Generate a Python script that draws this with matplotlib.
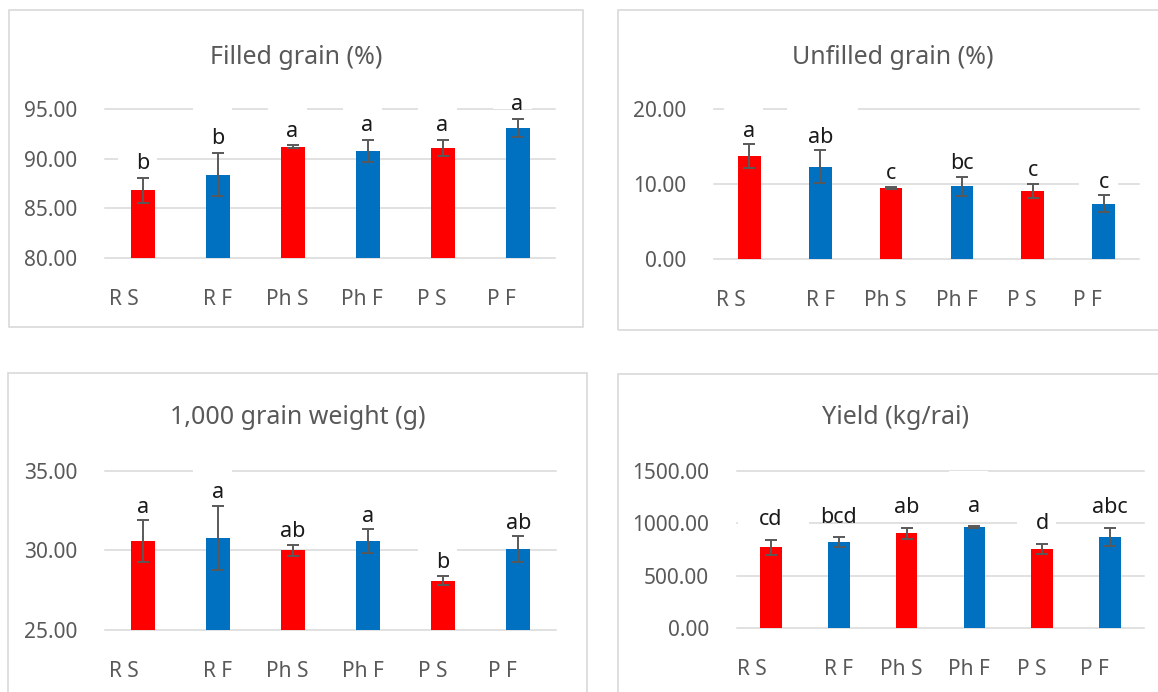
import numpy as np
import matplotlib.pyplot as plt
from matplotlib.patches import Rectangle
from matplotlib.ticker import FormatStrFormatter
from matplotlib.transforms import Affine2D, ScaledTranslation

plt.rcParams['font.family'] = ['Noto Sans', 'DejaVu Sans']

# treatments (trailing blanks come from the worksheet cells)
categories = ['R S       ', 'R F', 'Ph S  ', 'Ph F  ', 'P S    ', 'P F      ']
bar_colors = ['#FF0000', '#0070C0', '#FF0000', '#0070C0', '#FF0000', '#0070C0']

# filled grain (%)
filled = [86.8, 88.4, 91.2, 90.8, 91.1, 93.1]
filled_err = [1.3, 2.2, 0.15, 1.1, 0.8, 0.9]
filled_sig = ['b', 'b', 'a', 'a', 'a', 'a']

# unfilled grain (%)
unfilled = [13.7, 12.3, 9.5, 9.7, 9.1, 7.4]
unfilled_err = [1.6, 2.2, 0.15, 1.25, 0.9, 1.1]
unfilled_sig = ['a', 'ab', 'c', 'bc', 'c', 'c']

# 1,000 grain weight (g)
weight = [30.6, 30.8, 30.0, 30.6, 28.1, 30.1]
weight_err = [1.3, 2.0, 0.35, 0.75, 0.3, 0.8]
weight_sig = ['a', 'a', 'ab', 'a', 'b', 'ab']

# yield (kg/rai)
yld = [770, 822, 906, 964, 755, 870]
yld_err = [72, 46, 52, 10, 50, 88]
yld_sig = ['cd', 'bcd', 'ab', 'a', 'd', 'abc']

W, H = 1158, 692
fig = plt.figure(figsize=(W / 100, H / 100), dpi=100)
grey = '#595959'
frame = '#D9D9D9'


def px_rect(x0, y0, x1, y1):
    # pixel box (top-left origin) -> figure fraction rect
    return [x0 / W, 1 - y1 / H, (x1 - x0) / W, (y1 - y0) / H]


panels = [
    ('Filled grain (%)', filled, filled_err, filled_sig, (80, 95, 5),
     px_rect(105, 109, 555, 258), px_rect(9, 10, 583, 327), (296, 57), 14),
    ('Unfilled grain (%)', unfilled, unfilled_err, unfilled_sig, (0, 20, 10),
     px_rect(714, 109, 1139, 259), px_rect(618, 10, 1170, 330), (893, 57), 13),
    ('1,000 grain weight (g)', weight, weight_err, weight_sig, (25, 35, 5),
     px_rect(105, 471, 556, 630), px_rect(8, 373, 587, 720), (298, 418), 13),
    ('Yield (kg/rai)', yld, yld_err, yld_sig, (0, 1500, 500),
     px_rect(737, 471, 1144, 628), px_rect(618, 374, 1170, 720), (896, 418), 20),
]

x = np.arange(len(categories))

for title, vals, err, sig, (lo, hi, step), rect, box, (tx, ty), pad in panels:
    fig.add_artist(Rectangle(box[:2], box[2], box[3], transform=fig.transFigure,
                             fill=False, ec=frame, lw=1.2))
    fig.text(tx / W, 1 - ty / H, title, ha='center', va='center',
             fontsize=18, color=grey)

    ax = fig.add_axes(rect)
    ax.patch.set_visible(False)
    ax.bar(x, vals, width=0.32, color=bar_colors, zorder=2)
    ax.errorbar(x, vals, yerr=err, fmt='none', ecolor=grey, elinewidth=1.4,
                capsize=4.3, capthick=1.4, zorder=3)

    # significance letters, each on a white text box
    for xi, v, e, s in zip(x, vals, err, sig):
        top = v + e
        ax.annotate(s, xy=(xi, top), xytext=(0, pad), textcoords='offset pixels',
                    ha='center', va='center', fontsize=15.5, color='#1a1a1a',
                    zorder=4)
        n = len(s)
        left = -25 - 8 * (n - 1)
        right = 14 + 24 * (n - 1)
        trans = Affine2D() + ScaledTranslation(xi, top, ax.transData)
        ax.add_patch(Rectangle((left, pad - 4), right - left, 39, transform=trans,
                               fc='white', ec='none', zorder=1, clip_on=False))

    ax.set_xlim(-0.5, len(categories) - 0.5)
    ax.set_ylim(lo, hi)
    ax.set_yticks(np.arange(lo, hi + step / 2, step))
    ax.yaxis.set_major_formatter(FormatStrFormatter('%.2f'))
    ax.set_xticks(x, categories)
    ax.tick_params(length=0, labelsize=15, labelcolor=grey)
    ax.tick_params(axis='x', pad=22)
    ax.tick_params(axis='y', pad=20)
    for sp in ax.spines.values():
        sp.set_visible(False)
    ax.set_axisbelow(True)
    ax.grid(axis='y', color=frame, lw=1.1)
    for gl in ax.get_ygridlines():
        gl.set_clip_on(False)

fig.savefig('out.png', dpi=100)
